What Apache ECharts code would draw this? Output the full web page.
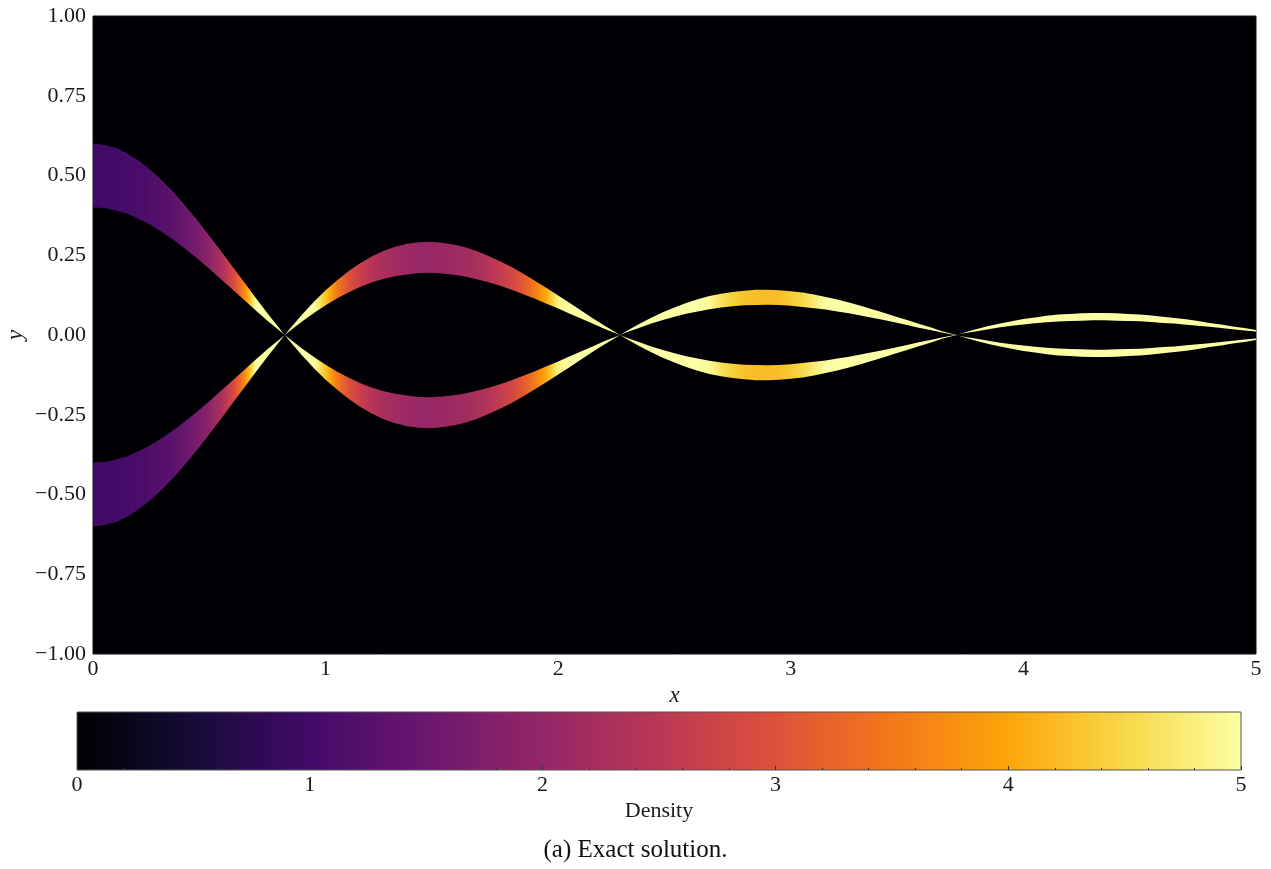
<!DOCTYPE html>
<html>
<head>
<meta charset="utf-8">
<script src="https://cdn.jsdelivr.net/npm/echarts@6/dist/echarts.min.js"></script>
<style>
  html, body { margin: 0; padding: 0; background: #ffffff; }
  #chart { width: 1271px; height: 869px; }
</style>
</head>
<body>
<div id="chart"></div>
<script>
// Sample positions along x
const xSamples = [
  0.00, 0.05, 0.10, 0.15, 0.20, 0.25, 0.30, 0.35, 0.40, 0.45,
  0.50, 0.55, 0.60, 0.65, 0.70, 0.75, 0.80, 0.85, 0.90, 0.95,
  1.00, 1.05, 1.10, 1.15, 1.20, 1.25, 1.30, 1.35, 1.40, 1.45,
  1.50, 1.55, 1.60, 1.65, 1.70, 1.75, 1.80, 1.85, 1.90, 1.95,
  2.00, 2.05, 2.10, 2.15, 2.20, 2.25, 2.30, 2.35, 2.40, 2.45,
  2.50, 2.55, 2.60, 2.65, 2.70, 2.75, 2.80, 2.85, 2.90, 2.95,
  3.00, 3.05, 3.10, 3.15, 3.20, 3.25, 3.30, 3.35, 3.40, 3.45,
  3.50, 3.55, 3.60, 3.65, 3.70, 3.75, 3.80, 3.85, 3.90, 3.95,
  4.00, 4.05, 4.10, 4.15, 4.20, 4.25, 4.30, 4.35, 4.40, 4.45,
  4.50, 4.55, 4.60, 4.65, 4.70, 4.75, 4.80, 4.85, 4.90, 4.95,
  5.00
];

// Outer edge of the band that starts at y = 0.6
const edgeOuter = [
  0.600, 0.596, 0.586, 0.568, 0.545, 0.516, 0.482, 0.444, 0.402, 0.358,
  0.311, 0.263, 0.214, 0.165, 0.116, 0.068, 0.022, -0.023, -0.065, -0.104,
  -0.140, -0.172, -0.201, -0.226, -0.247, -0.264, -0.277, -0.286, -0.291, -0.292,
  -0.289, -0.284, -0.275, -0.263, -0.248, -0.231, -0.213, -0.192, -0.170, -0.147,
  -0.124, -0.100, -0.076, -0.052, -0.029, -0.007, 0.015, 0.035, 0.054, 0.071,
  0.086, 0.100, 0.112, 0.122, 0.129, 0.135, 0.139, 0.142, 0.142, 0.140,
  0.137, 0.133, 0.127, 0.119, 0.111, 0.102, 0.092, 0.081, 0.070, 0.058,
  0.047, 0.035, 0.024, 0.012, 0.002, -0.009, -0.019, -0.028, -0.036, -0.043,
  -0.050, -0.055, -0.060, -0.064, -0.066, -0.068, -0.069, -0.069, -0.068, -0.066,
  -0.064, -0.061, -0.057, -0.053, -0.049, -0.044, -0.038, -0.033, -0.027, -0.022,
  -0.016
];

// Inner edge of the band that starts at y = 0.4
const edgeInner = [
  0.400, 0.398, 0.390, 0.379, 0.363, 0.344, 0.321, 0.296, 0.268, 0.239,
  0.208, 0.175, 0.143, 0.110, 0.077, 0.045, 0.015, -0.015, -0.043, -0.069,
  -0.093, -0.115, -0.134, -0.151, -0.165, -0.176, -0.184, -0.190, -0.194, -0.195,
  -0.193, -0.189, -0.183, -0.175, -0.165, -0.154, -0.142, -0.128, -0.114, -0.098,
  -0.083, -0.067, -0.051, -0.035, -0.019, -0.005, 0.010, 0.023, 0.036, 0.047,
  0.057, 0.067, 0.074, 0.081, 0.086, 0.090, 0.093, 0.094, 0.095, 0.094,
  0.092, 0.088, 0.084, 0.080, 0.074, 0.068, 0.061, 0.054, 0.047, 0.039,
  0.031, 0.023, 0.016, 0.008, 0.001, -0.006, -0.012, -0.018, -0.024, -0.029,
  -0.033, -0.037, -0.040, -0.042, -0.044, -0.045, -0.046, -0.046, -0.045, -0.044,
  -0.043, -0.041, -0.038, -0.036, -0.032, -0.029, -0.026, -0.022, -0.018, -0.014,
  -0.011
];

// Density inside the band at each sample (values at or above 5 shown saturated)
const density = [
  1.00, 1.01, 1.02, 1.06, 1.10, 1.16, 1.24, 1.35, 1.49, 1.68,
  1.93, 2.28, 2.80, 3.64, 5.00, 5.00, 5.00, 5.00, 5.00, 5.00,
  4.30, 3.49, 2.99, 2.66, 2.43, 2.27, 2.17, 2.10, 2.06, 2.06,
  2.07, 2.12, 2.18, 2.28, 2.42, 2.59, 2.82, 3.12, 3.52, 4.07,
  4.84, 5.00, 5.00, 5.00, 5.00, 5.00, 5.00, 5.00, 5.00, 5.00,
  5.00, 5.00, 5.00, 4.93, 4.63, 4.43, 4.30, 4.24, 4.23, 4.27,
  4.37, 4.52, 4.74, 5.00, 5.00, 5.00, 5.00, 5.00, 5.00, 5.00,
  5.00, 5.00, 5.00, 5.00, 5.00, 5.00, 5.00, 5.00, 5.00, 5.00,
  5.00, 5.00, 5.00, 5.00, 5.00, 5.00, 5.00, 5.00, 5.00, 5.00,
  5.00, 5.00, 5.00, 5.00, 5.00, 5.00, 5.00, 5.00, 5.00, 5.00,
  5.00
];

// The two bands are mirror images about y = 0
const bandSigns = [1, -1];

const densityRange = [0, 5];
const xRange = [0, 5];
const yRange = [-1, 1];

// inferno colormap, evenly spaced stops
const infernoStops = [
  '#000004', '#160b39', '#420a68', '#6a176e', '#932667', '#bc3754',
  '#dd513a', '#f37819', '#fca50a', '#f6d746', '#fcffa4'
];

const SERIF = '"Liberation Serif", "DejaVu Serif", serif';
const TEXT_COLOR = '#1a1a1a';

function hexToRgb(h) {
  return [parseInt(h.slice(1, 3), 16), parseInt(h.slice(3, 5), 16), parseInt(h.slice(5, 7), 16)];
}
const infernoRgb = infernoStops.map(hexToRgb);

function infernoColor(d) {
  let t = (d - densityRange[0]) / (densityRange[1] - densityRange[0]);
  t = Math.max(0, Math.min(1, t));
  const pos = t * (infernoRgb.length - 1);
  const i = Math.min(Math.floor(pos), infernoRgb.length - 2);
  const f = pos - i;
  const a = infernoRgb[i], b = infernoRgb[i + 1];
  const c = a.map((v, j) => Math.round(v + (b[j] - v) * f));
  return 'rgb(' + c.join(',') + ')';
}

// Gradient stops along x for the band fill (finer steps keep the colormap path)
function bandColorStops() {
  const stops = [];
  const x0 = xSamples[0], x1 = xSamples[xSamples.length - 1];
  const SUB = 6;
  for (let k = 0; k < xSamples.length - 1; k++) {
    for (let s = 0; s < SUB; s++) {
      const r = s / SUB;
      const x = xSamples[k] + (xSamples[k + 1] - xSamples[k]) * r;
      const d = density[k] + (density[k + 1] - density[k]) * r;
      stops.push({ offset: (x - x0) / (x1 - x0), color: infernoColor(d) });
    }
  }
  stops.push({ offset: 1, color: infernoColor(density[density.length - 1]) });
  return stops;
}
const bandStops = bandColorStops();

function colorbarStops() {
  const stops = [];
  const N = 100;
  for (let i = 0; i <= N; i++) {
    const d = densityRange[0] + (densityRange[1] - densityRange[0]) * i / N;
    stops.push({ offset: i / N, color: infernoColor(d) });
  }
  return stops;
}

const chart = echarts.init(document.getElementById('chart'), null, { renderer: 'canvas' });

const option = {
  animation: false,
  backgroundColor: '#ffffff',
  grid: [
    { left: 93, right: 15, top: 16, bottom: 215, show: true, containLabel: false,
      outerBoundsMode: 'none',
      backgroundColor: '#000004', borderColor: '#111111', borderWidth: 1 },
    { left: 77, right: 30, top: 712, bottom: 99, show: false, containLabel: false,
      outerBoundsMode: 'none' }
  ],
  xAxis: [
    {
      gridIndex: 0, type: 'value', min: xRange[0], max: xRange[1], interval: 1,
      axisLine: { show: false }, axisTick: { show: false }, splitLine: { show: false },
      axisLabel: { show: true, margin: 4, fontFamily: SERIF, fontSize: 22, color: TEXT_COLOR,
        showMinLabel: true, showMaxLabel: true },
      name: 'x', nameLocation: 'middle', nameGap: 26,
      nameTextStyle: { fontFamily: SERIF, fontSize: 23, fontStyle: 'italic', color: TEXT_COLOR }
    },
    {
      gridIndex: 1, type: 'value', min: densityRange[0], max: densityRange[1], interval: 1,
      z: 5,
      axisLine: { show: false },
      axisTick: { show: true, inside: true, length: 4, lineStyle: { color: '#333333', width: 1 } },
      minorTick: { show: true, splitNumber: 5, length: 2, lineStyle: { color: '#333333', width: 1 } },
      splitLine: { show: false },
      axisLabel: { show: true, margin: 4, fontFamily: SERIF, fontSize: 22, color: TEXT_COLOR,
        showMinLabel: true, showMaxLabel: true },
      name: 'Density', nameLocation: 'middle', nameGap: 30,
      nameTextStyle: { fontFamily: SERIF, fontSize: 22, color: TEXT_COLOR }
    }
  ],
  yAxis: [
    {
      gridIndex: 0, type: 'value', min: yRange[0], max: yRange[1], interval: 0.25,
      axisLine: { show: false }, axisTick: { show: false }, splitLine: { show: false },
      axisLabel: {
        show: true, margin: 7, fontFamily: SERIF, fontSize: 22, color: TEXT_COLOR,
        formatter: v => (v < 0 ? '\u2212' : '') + Math.abs(v).toFixed(2)
      }
    },
    {
      gridIndex: 1, type: 'value', min: 0, max: 1, show: false
    }
  ],
  graphic: [
    {
      // y-axis title, rotated to read upwards
      type: 'text', x: 16, y: 335, rotation: Math.PI / 2,
      style: { text: 'y', font: 'italic 23px ' + SERIF, fill: TEXT_COLOR,
        align: 'center', verticalAlign: 'middle' }
    },
    {
      type: 'text', left: 'center', top: 838,
      style: { text: '(a) Exact solution.', font: '25px ' + SERIF, fill: '#111111' }
    }
  ],
  series: [
    {
      type: 'custom',
      xAxisIndex: 0, yAxisIndex: 0,
      clip: true,
      silent: true,
      data: bandSigns.map(s => ({ value: [0, s] })),
      renderItem: function (params, api) {
        const sign = api.value(1);
        const pts = [];
        for (let i = 0; i < xSamples.length; i++) {
          pts.push(api.coord([xSamples[i], sign * edgeOuter[i]]));
        }
        for (let i = xSamples.length - 1; i >= 0; i--) {
          pts.push(api.coord([xSamples[i], sign * edgeInner[i]]));
        }
        const xa = api.coord([xSamples[0], 0])[0];
        const xb = api.coord([xSamples[xSamples.length - 1], 0])[0];
        return {
          type: 'polygon',
          shape: { points: pts },
          style: {
            fill: new echarts.graphic.LinearGradient(xa, 0, xb, 0, bandStops, true),
            stroke: null
          }
        };
      }
    },
    {
      type: 'custom',
      xAxisIndex: 1, yAxisIndex: 1,
      silent: true,
      data: [{ value: [densityRange[0], 0] }],
      renderItem: function (params, api) {
        const p0 = api.coord([densityRange[0], 1]);
        const p1 = api.coord([densityRange[1], 0]);
        return {
          type: 'rect',
          shape: { x: p0[0], y: p0[1], width: p1[0] - p0[0], height: p1[1] - p0[1] },
          style: {
            fill: new echarts.graphic.LinearGradient(p0[0], 0, p1[0], 0, colorbarStops(), true),
            stroke: '#555555',
            lineWidth: 1
          }
        };
      }
    }
  ]
};

chart.setOption(option);
</script>
</body>
</html>
